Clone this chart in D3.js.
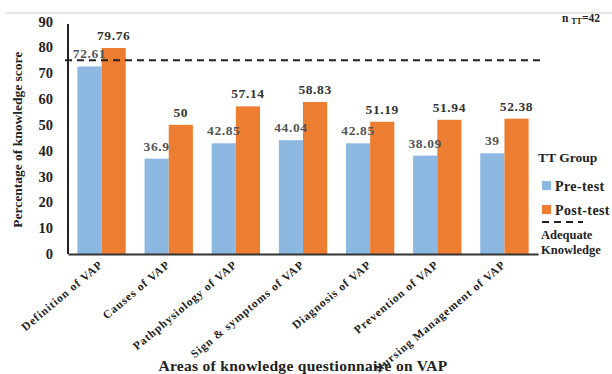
<!DOCTYPE html>
<html>
<head>
<meta charset="utf-8">
<script src="https://cdn.jsdelivr.net/npm/d3@7"></script>
<style>
  html, body { margin: 0; padding: 0; background: #fff; }
  svg { display: block; }
  text { font-family: "Liberation Serif", "Times New Roman", serif; font-weight: bold; }
</style>
</head>
<body>
<svg id="chart" width="612" height="374"></svg>
<script>
// Knowledge areas and scores (%)
const categories = [
  "Definition  of VAP",
  "Causes of VAP",
  "Pathphysiology  of VAP",
  "Sign & symptoms  of VAP",
  "Diagnosis of VAP",
  "Prevention of VAP",
  "Nursing  Management of VAP"
];
const preTest = [72.61, 36.9, 42.85, 44.04, 42.85, 38.09, 39];
const postTest = [79.76, 50, 57.14, 58.83, 51.19, 51.94, 52.38];
const preLabels = ["72.61", "36.9", "42.85", "44.04", "42.85", "38.09", "39"];
const postLabels = ["79.76", "50", "57.14", "58.83", "51.19", "51.94", "52.38"];
const adequateLevel = 75;
const yTicks = [0, 10, 20, 30, 40, 50, 60, 70, 80, 90];

const svg = d3.select("#chart");
const m = { left: 68, right: 538, top: 21.5, bottom: 254 };

const x = d3.scaleBand().domain(categories).range([m.left, m.right]).paddingInner(0.28).paddingOuter(0.14);
const xs = d3.scaleBand().domain(["pre", "post"]).range([0, x.bandwidth()]);
const y = d3.scaleLinear().domain([0, 90]).range([m.bottom, m.top]);

// top rule
svg.append("line").attr("x1", 5).attr("x2", 612).attr("y1", 13).attr("y2", 13)
  .attr("stroke", "#dcdcdc").attr("stroke-width", 1.5);

// bars
const series = [
  { key: "pre", values: preTest, labels: preLabels, color: "#8cb8e2", textColor: "#555" },
  { key: "post", values: postTest, labels: postLabels, color: "#ed7d31", textColor: "#333" }
];
series.forEach(s => {
  svg.append("g").selectAll("rect").data(categories).join("rect")
    .attr("x", (c) => x(c) + xs(s.key))
    .attr("width", xs.bandwidth())
    .attr("y", (c, i) => y(s.values[i]))
    .attr("height", (c, i) => y(0) - y(s.values[i]))
    .attr("fill", s.color);
});

// adequate knowledge line
svg.append("line")
  .attr("x1", m.left - 3).attr("x2", m.right + 2)
  .attr("y1", y(adequateLevel)).attr("y2", y(adequateLevel))
  .attr("stroke", "#222").attr("stroke-width", 2).attr("stroke-dasharray", "7,5");

// value labels
series.forEach(s => {
  svg.append("g").selectAll("text").data(categories).join("text")
    .attr("x", (c) => x(c) + xs(s.key) + xs.bandwidth() / 2)
    .attr("y", (c, i) => y(s.values[i]) - 8)
    .attr("text-anchor", "middle")
    .attr("font-size", 13.5)
    .attr("letter-spacing", 0.6)
    .attr("fill", s.textColor)
    .text((c, i) => s.labels[i]);
});

// y axis
const yAxis = svg.append("g").attr("transform", `translate(${m.left},0)`)
  .call(d3.axisLeft(y).tickValues(yTicks).tickSize(0).tickPadding(15));
yAxis.select(".domain").attr("stroke", "#222").attr("stroke-width", 2)
  .attr("d", `M0,${y(0)}V${y(89)}`);
yAxis.selectAll("text").attr("font-size", 14.5).attr("fill", "#222")
  .style("font-family", "'Liberation Serif', serif").style("font-weight", "bold");

// x axis
const xAxis = svg.append("g").attr("transform", `translate(0,${m.bottom})`)
  .call(d3.axisBottom(x).tickSize(0).tickPadding(0));
xAxis.select(".domain").attr("stroke", "#333").attr("stroke-width", 2);
xAxis.selectAll("text")
  .attr("font-size", 11.5).attr("fill", "#222")
  .attr("letter-spacing", 0.9)
  .style("font-family", "'Liberation Serif', serif").style("font-weight", "bold")
  .attr("text-anchor", "end")
  .attr("dy", null).attr("y", 0)
  .attr("transform", "translate(2,12) rotate(-40)");

// axis titles
svg.append("text")
  .attr("transform", `translate(22,${(m.top + m.bottom) / 2 + 2}) rotate(-90)`)
  .attr("text-anchor", "middle").attr("font-size", 13.5).attr("fill", "#222")
  .text("Percentage of knowledge score");
svg.append("text")
  .attr("x", 303).attr("y", 371)
  .attr("text-anchor", "middle").attr("font-size", 15.5).attr("fill", "#222")
  .attr("letter-spacing", 0.3)
  .text("Areas of knowledge questionnaire on VAP");

// sample size note
const note = svg.append("text").attr("x", 562).attr("y", 22).attr("font-size", 11.5).attr("fill", "#222");
note.append("tspan").text("n ");
note.append("tspan").attr("font-size", 8).attr("dy", 2).text("TT");
note.append("tspan").attr("dy", -2).text("=42");

// legend
const lg = svg.append("g");
lg.append("text").attr("x", 538).attr("y", 162).attr("font-size", 13.5).attr("fill", "#222").text("TT Group");
lg.append("rect").attr("x", 542).attr("y", 181).attr("width", 9).attr("height", 9).attr("fill", series[0].color);
lg.append("text").attr("x", 555).attr("y", 191).attr("font-size", 14).attr("letter-spacing", 0.4).attr("fill", "#222").text("Pre-test");
lg.append("rect").attr("x", 542).attr("y", 205).attr("width", 9).attr("height", 9).attr("fill", series[1].color);
lg.append("text").attr("x", 555).attr("y", 215).attr("font-size", 14).attr("letter-spacing", 0.4).attr("fill", "#222").text("Post-test");
lg.append("line").attr("x1", 542).attr("x2", 583).attr("y1", 222).attr("y2", 222)
  .attr("stroke", "#222").attr("stroke-width", 2).attr("stroke-dasharray", "7,5");
lg.append("text").attr("x", 541).attr("y", 239).attr("font-size", 12.5).attr("fill", "#222").text("Adequate");
lg.append("text").attr("x", 541).attr("y", 254).attr("font-size", 12.5).attr("fill", "#222").text("Knowledge");
</script>
</body>
</html>
